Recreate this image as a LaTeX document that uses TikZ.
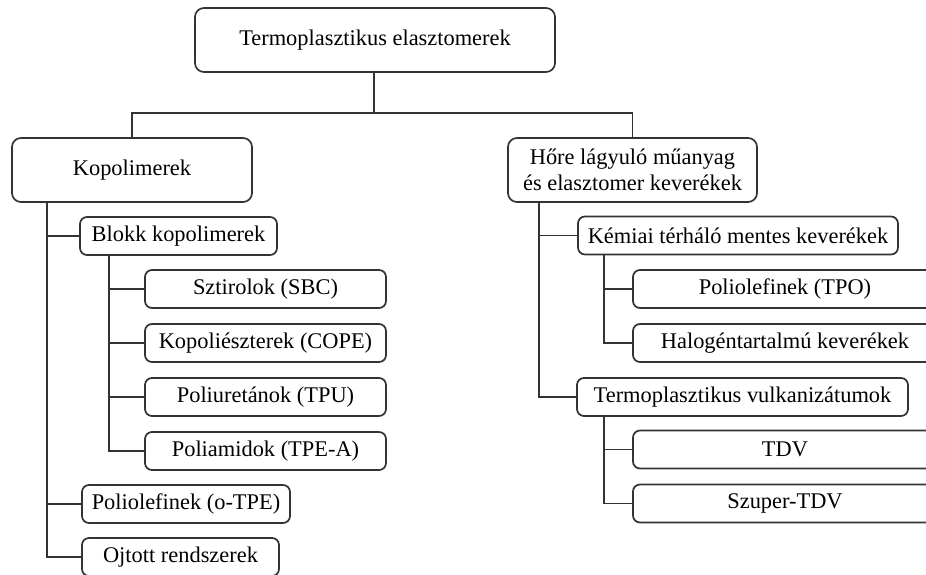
\documentclass[tikz,border=0pt]{standalone}
\usepackage{fontspec}
\setmainfont{Liberation Serif}
\begin{document}
\begin{tikzpicture}[x=1pt,y=-1pt,
  box/.style={draw=black!80,line width=1.7pt,rounded corners=9pt,inner sep=0pt,align=center,
    font=\fontsize{22.4}{26}\selectfont,text=black},
  bigbox/.style={box,minimum height=64pt},
  smallbox/.style={box,minimum height=38pt,rounded corners=7pt},
  link/.style={draw=black!80,line width=1.7pt}]
\clip (0,0) rectangle (926,574);
\fill[white] (0,0) rectangle (926,574);
% nodes
\node[bigbox,minimum width=360pt] (top) at (375,40) {Termoplasztikus elasztomerek};
\node[bigbox,minimum width=240pt] (kop) at (132,170) {Kopolimerek};
\node[smallbox,minimum width=197pt] (blokk) at (178.5,236) {Blokk kopolimerek};
\node[smallbox,minimum width=241pt] (sbc) at (265.5,289) {Sztirolok (SBC)};
\node[smallbox,minimum width=241pt] (cope) at (265.5,343) {Kopoliészterek (COPE)};
\node[smallbox,minimum width=241pt] (tpu) at (265.5,397) {Poliuretánok (TPU)};
\node[smallbox,minimum width=241pt] (tpea) at (265.5,451) {Poliamidok (TPE-A)};
\node[smallbox,minimum width=208pt] (otpe) at (186,504) {Poliolefinek (o-TPE)};
\node[smallbox,minimum width=197pt] (ojt) at (180.5,557) {Ojtott rendszerek};
\node[bigbox,minimum width=249pt] (hore) at (632.5,170) {Hőre lágyuló műanyag\\és elasztomer keverékek};
\node[smallbox,minimum width=320pt] (kemi) at (738,235.5) {Kémiai térháló mentes keverékek};
\node[smallbox,minimum width=304pt] (tpo) at (785,289) {Poliolefinek (TPO)};
\node[smallbox,minimum width=304pt] (halo) at (785,343) {Halogéntartalmú keverékek};
\node[smallbox,minimum width=331pt] (tvulk) at (742.5,397) {Termoplasztikus vulkanizátumok};
\node[smallbox,minimum width=304pt] (tdv) at (785,449.5) {TDV};
\node[smallbox,minimum width=304pt] (stdv) at (785,503.5) {Szuper-TDV};
% connectors
\coordinate (bus) at (374,113);
\draw[link] (top.south -| bus) -- (bus);
\draw[link] (kop.north) |- (bus) -| (hore.north);
\coordinate (lt) at ([xshift=36pt]kop.south west);
\draw[link] (lt) |- (blokk.west);
\draw[link] (lt) |- (otpe.west);
\draw[link] (lt) |- (ojt.west);
\coordinate (bt) at ([xshift=30pt]blokk.south west);
\draw[link] (bt) |- (sbc.west);
\draw[link] (bt) |- (cope.west);
\draw[link] (bt) |- (tpu.west);
\draw[link] (bt) |- (tpea.west);
\coordinate (rt) at ([xshift=32pt]hore.south west);
\draw[link] (rt) |- (kemi.west);
\draw[link] (rt) |- (tvulk.west);
\coordinate (kt) at ([xshift=27pt]kemi.south west);
\draw[link] (kt) |- (tpo.west);
\draw[link] (kt) |- (halo.west);
\coordinate (vt) at ([xshift=28pt]tvulk.south west);
\draw[link] (vt) |- (tdv.west);
\draw[link] (vt) |- (stdv.west);
\end{tikzpicture}
\end{document}
